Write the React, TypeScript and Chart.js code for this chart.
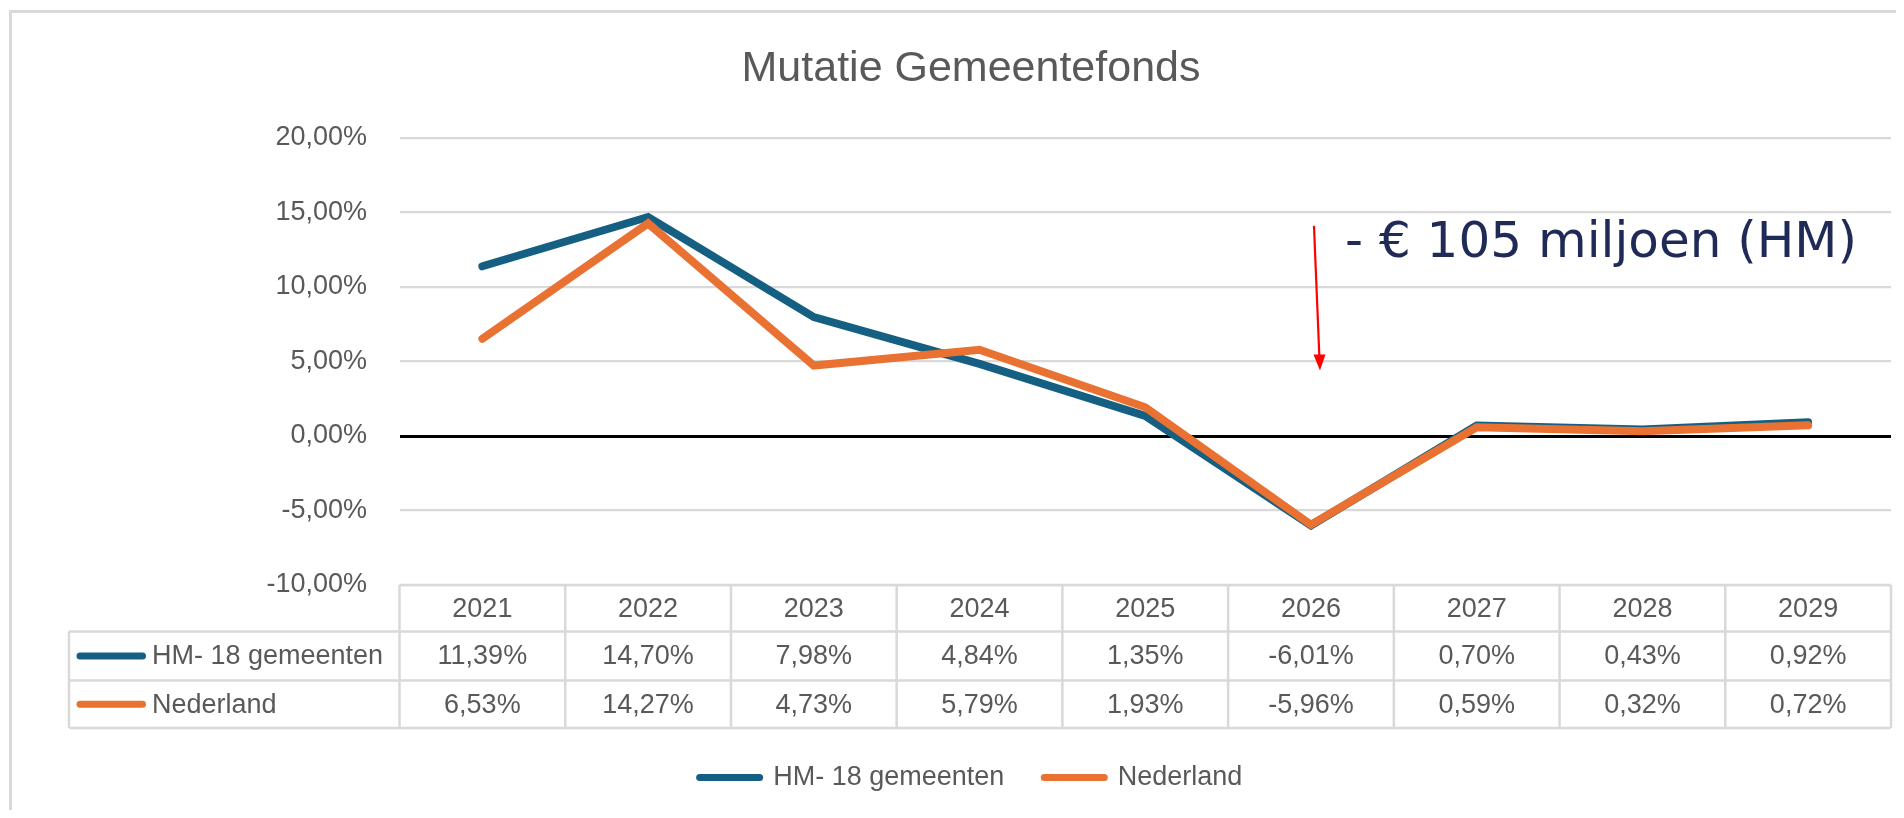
import React, { useEffect, useRef } from 'react';
import { Chart, registerables } from 'chart.js';

Chart.register(...registerables);

// ---------- data ----------
const TITLE = 'Mutatie Gemeentefonds';
const CATEGORIES = ['2021', '2022', '2023', '2024', '2025', '2026', '2027', '2028', '2029'];
const HM_LABEL = 'HM- 18 gemeenten';
const NL_LABEL = 'Nederland';
const HM_VALUES = [11.39, 14.7, 7.98, 4.84, 1.35, -6.01, 0.7, 0.43, 0.92];
const NL_VALUES = [6.53, 14.27, 4.73, 5.79, 1.93, -5.96, 0.59, 0.32, 0.72];
const Y_MIN = -10;
const Y_MAX = 20;
const Y_STEP = 5;
const ANNOTATION_TEXT = '- € 105 miljoen (HM)';
const ANNOTATION_CATEGORY = '2026';
const ANNOTATION_ARROW_FROM = 14.1;
const ANNOTATION_ARROW_TO = 4.4;
const ANNOTATION_TEXT_AT = 12.9;

// ---------- styles ----------
const FONT = '"Liberation Sans", Arial, sans-serif';
const TEXT_COLOR = '#595959';
const GRID_COLOR = '#d9d9d9';
const HM_COLOR = '#156082';
const NL_COLOR = '#E97132';

const fmt = (v: number) => v.toFixed(2).replace('.', ',') + '%';

const tablePlugin = {
  id: 'dataTable',
  afterDraw(chart: any) {
    const ctx = chart.ctx;
    const ca = chart.chartArea;
    const xs = chart.scales.x;
    const ys = chart.scales.y;
    const n = CATEGORIES.length;
    const colW = (ca.right - ca.left) / n;
    const top0 = ca.bottom;
    const top1 = top0 + 46.5;
    const top2 = top1 + 49;
    const bottom = top2 + 47.5;
    const tableLeft = 59;

    ctx.save();
    ctx.strokeStyle = GRID_COLOR;
    ctx.lineWidth = 2.5;
    ctx.beginPath();
    ctx.moveTo(ca.left, top0);
    ctx.lineTo(ca.right, top0);
    [top1, top2, bottom].forEach((y) => {
      ctx.moveTo(tableLeft, y);
      ctx.lineTo(ca.right, y);
    });
    for (let i = 0; i <= n; i++) {
      const x = ca.left + i * colW;
      ctx.moveTo(x, top0);
      ctx.lineTo(x, bottom);
    }
    ctx.moveTo(tableLeft, top1);
    ctx.lineTo(tableLeft, bottom);
    ctx.stroke();

    ctx.fillStyle = TEXT_COLOR;
    ctx.font = `27px ${FONT}`;
    ctx.textBaseline = 'middle';
    ctx.textAlign = 'center';
    const rows = [
      { label: HM_LABEL, values: HM_VALUES, color: HM_COLOR, y: (top1 + top2) / 2 },
      { label: NL_LABEL, values: NL_VALUES, color: NL_COLOR, y: (top2 + bottom) / 2 },
    ];
    CATEGORIES.forEach((c, i) => {
      const x = xs.getPixelForValue(i);
      ctx.fillText(c, x, (top0 + top1) / 2 + 1);
      rows.forEach((r) => ctx.fillText(fmt(r.values[i]), x, r.y + 1));
    });
    rows.forEach((r) => {
      ctx.strokeStyle = r.color;
      ctx.lineWidth = 7;
      ctx.lineCap = 'round';
      ctx.beginPath();
      ctx.moveTo(tableLeft + 11, r.y);
      ctx.lineTo(tableLeft + 73.5, r.y);
      ctx.stroke();
      ctx.textAlign = 'left';
      ctx.fillText(r.label, tableLeft + 83, r.y + 1);
    });

    // annotation
    const idx = CATEGORIES.indexOf(ANNOTATION_CATEGORY);
    const px = xs.getPixelForValue(idx);
    const yTop = ys.getPixelForValue(ANNOTATION_ARROW_FROM);
    const yTip = ys.getPixelForValue(ANNOTATION_ARROW_TO);
    const xTop = px + 3;
    const xTip = px + 9;
    ctx.strokeStyle = '#ff0000';
    ctx.fillStyle = '#ff0000';
    ctx.lineWidth = 2.2;
    ctx.lineCap = 'butt';
    ctx.beginPath();
    ctx.moveTo(xTop, yTop);
    ctx.lineTo(xTip - 0.6, yTip - 14);
    ctx.stroke();
    ctx.beginPath();
    ctx.moveTo(xTip, yTip);
    ctx.lineTo(xTip - 6.5, yTip - 16);
    ctx.lineTo(xTip + 5.5, yTip - 16);
    ctx.closePath();
    ctx.fill();

    ctx.fillStyle = '#1f2a56';
    ctx.font = '50px "DejaVu Sans", Verdana, sans-serif';
    ctx.textAlign = 'left';
    ctx.textBaseline = 'middle';
    ctx.fillText(ANNOTATION_TEXT, px + 34, ys.getPixelForValue(ANNOTATION_TEXT_AT));
    ctx.restore();
  },
};

export default function App() {
  const ref = useRef<HTMLCanvasElement | null>(null);

  useEffect(() => {
    if (!ref.current) return;
    const chart = new Chart(ref.current, {
      type: 'line',
      data: {
        labels: CATEGORIES,
        datasets: [
          {
            label: HM_LABEL,
            data: HM_VALUES,
            borderColor: HM_COLOR,
            backgroundColor: HM_COLOR,
            borderWidth: 8,
            borderCapStyle: 'round',
            pointRadius: 0,
            tension: 0,
            order: 1,
          },
          {
            label: NL_LABEL,
            data: NL_VALUES,
            borderColor: NL_COLOR,
            backgroundColor: NL_COLOR,
            borderWidth: 8,
            borderCapStyle: 'round',
            pointRadius: 0,
            tension: 0,
            order: 0,
          },
        ],
      },
      options: {
        responsive: false,
        animation: false,
        layout: { padding: { left: 0, right: 0, top: 0, bottom: 9 } },
        plugins: {
          title: {
            display: true,
            text: TITLE,
            color: TEXT_COLOR,
            font: { family: FONT, size: 43, weight: 'normal' },
            padding: { top: 33.5, bottom: 42.9 },
          },
          legend: {
            position: 'bottom',
            labels: {
              usePointStyle: true,
              pointStyle: 'line',
              pointStyleWidth: 60,
              color: TEXT_COLOR,
              font: { family: FONT, size: 27 },
              padding: 40,
              sort: (a: any, b: any) => a.datasetIndex - b.datasetIndex,
              generateLabels: (chart: any) =>
                Chart.defaults.plugins.legend.labels
                  .generateLabels(chart)
                  .map((l: any) => ({ ...l, lineCap: 'round', lineWidth: 7 })),
            },
          },
          tooltip: { enabled: false },
        },
        scales: {
          x: {
            type: 'category',
            offset: true,
            grid: { display: false },
            border: { display: false },
            ticks: { display: false },
            afterFit: (scale: any) => {
              scale.height = 139;
            },
          },
          y: {
            type: 'linear',
            position: 'left',
            min: Y_MIN,
            max: Y_MAX,
            border: { display: false },
            grid: {
              drawTicks: false,
              color: (c: any) => (c.tick && c.tick.value === 0 ? '#000000' : GRID_COLOR),
              lineWidth: (c: any) => (c.tick && c.tick.value === 0 ? 3 : 2.3),
            },
            ticks: {
              stepSize: Y_STEP,
              padding: 32.5,
              color: TEXT_COLOR,
              font: { family: FONT, size: 27 },
              callback: (v: any) => fmt(Number(v)),
            },
            afterFit: (scale: any) => {
              scale.width = 389.5;
            },
          },
          yRight: {
            type: 'linear',
            position: 'right',
            display: true,
            grid: { display: false },
            border: { display: false },
            ticks: { display: false },
            afterFit: (scale: any) => {
              scale.width = 41;
            },
          },
        },
      },
      plugins: [tablePlugin],
    } as any);
    return () => chart.destroy();
  }, []);

  return (
    <div style={{ position: 'relative', height: 802, overflow: 'hidden', background: '#fff' }}>
      <div
        style={{
          position: 'absolute',
          left: 1,
          top: 2,
          width: 3000,
          height: 3000,
          borderTop: '3px solid #d9d9d9',
          borderLeft: '3px solid #d9d9d9',
        }}
      />
      <canvas
        ref={ref}
        width={1922}
        height={800}
        style={{ position: 'absolute', left: 2, top: 2, width: 1922, height: 800 }}
      />
    </div>
  );
}
